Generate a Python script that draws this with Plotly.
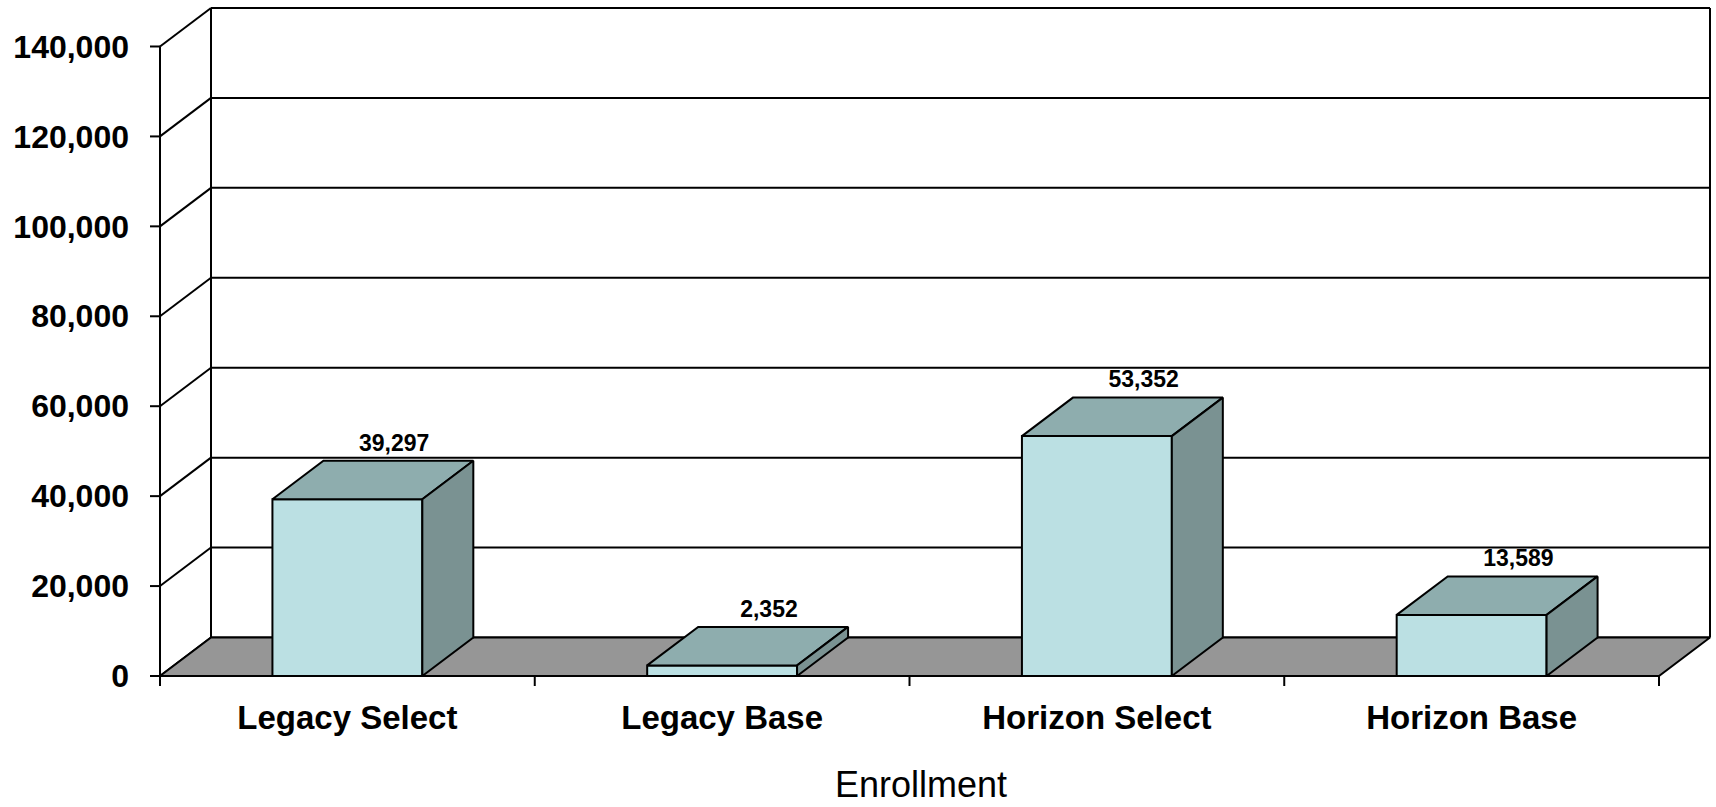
import plotly.graph_objects as go

# ---------------- data ----------------
categories = ["Legacy Select", "Legacy Base", "Horizon Select", "Horizon Base"]
enrollment = [39297, 2352, 53352, 13589]
y_ticks = [0, 20000, 40000, 60000, 80000, 100000, 120000, 140000]
y_tick_labels = [f"{v:,}" for v in y_ticks]
axis_title = "Enrollment"

# ---------------- geometry / style ----------------
W, H = 1716, 807
X0_PX, UNIT_PX = 160, 374.75          # pixel of category edge 0, px per category
Y0_PX, VAL_PX = 676, 89.93 / 20000    # pixel of value 0, px per value unit
DEPTH_DX_PX, DEPTH_DY_PX = 51, 38.5   # oblique depth offset
L, R, T, B = 150, 1714, 2, 688        # plot area in pixels
TICK_PX = 10
BAR_W = 0.4
LABEL_DX = 0.125
LABEL_DY_PX = 16

FRONT = "#BBE0E3"
TOP = "#8EADAE"
SIDE = "#7A9292"
FLOOR = "#969696"
LINE = "#000000"
LW = 2
FONT = "Arial, 'Liberation Sans', sans-serif"

ddx = DEPTH_DX_PX / UNIT_PX
ddy = DEPTH_DY_PX / VAL_PX
px_x = lambda p: p / UNIT_PX
px_y = lambda p: p / VAL_PX
ncat = len(categories)
ymax = max(y_ticks)

xr = [(L - X0_PX) / UNIT_PX, (R - X0_PX) / UNIT_PX]
yr = [(Y0_PX - B) / VAL_PX, (Y0_PX - T) / VAL_PX]

fig = go.Figure()


def segs(pairs, width=LW, color=LINE):
    xs, ys = [], []
    for (xa, ya), (xb, yb) in pairs:
        xs += [xa, xb, None]
        ys += [ya, yb, None]
    fig.add_trace(go.Scatter(x=xs, y=ys, mode="lines", line=dict(color=color, width=width),
                             hoverinfo="skip", showlegend=False))


def poly(pts, fill):
    xs = [p[0] for p in pts] + [pts[0][0]]
    ys = [p[1] for p in pts] + [pts[0][1]]
    fig.add_trace(go.Scatter(x=xs, y=ys, mode="lines", fill="toself", fillcolor=fill,
                             line=dict(color=LINE, width=LW), hoverinfo="skip", showlegend=False))


# back wall gridlines
segs([((ddx, v + ddy), (ncat + ddx, v + ddy)) for v in y_ticks])
# back wall verticals
segs([((ddx, ddy), (ddx, ymax + ddy)), ((ncat + ddx, ddy), (ncat + ddx, ymax + ddy))])
# side wall diagonals
segs([((0, v), (ddx, v + ddy)) for v in y_ticks])
# floor
poly([(0, 0), (ncat, 0), (ncat + ddx, ddy), (ddx, ddy)], FLOOR)
# front value axis line + ticks
segs([((0, 0), (0, ymax))])
segs([((0, v), (-px_x(TICK_PX), v)) for v in y_ticks])
# category ticks
segs([((i, 0), (i, -px_y(TICK_PX))) for i in range(ncat + 1)])

# bars
for i, v in enumerate(enrollment):
    c = i + 0.5
    x1, x2 = c - BAR_W / 2, c + BAR_W / 2
    poly([(x1, 0), (x2, 0), (x2, v), (x1, v)], FRONT)
    poly([(x1, v), (x2, v), (x2 + ddx, v + ddy), (x1 + ddx, v + ddy)], TOP)
    poly([(x2, 0), (x2 + ddx, ddy), (x2 + ddx, v + ddy), (x2, v)], SIDE)

# data labels
fig.add_trace(go.Scatter(
    x=[i + 0.5 + LABEL_DX for i in range(ncat)],
    y=[v + ddy + px_y(LABEL_DY_PX) for v in enrollment],
    text=[f"{v:,}" for v in enrollment],
    mode="text", textposition="middle center",
    textfont=dict(family=FONT, size=23, color="#000", weight="bold"),
    hoverinfo="skip", showlegend=False, cliponaxis=False))

fig.add_annotation(text=axis_title, xref="x", yref="paper",
                   x=(921 - X0_PX) / UNIT_PX, y=-(H - 1 - B) / (B - T),
                   xanchor="center", yanchor="bottom", showarrow=False, borderpad=0,
                   font=dict(family=FONT, size=36, color="#000"))

fig.update_layout(
    width=W, height=H,
    margin=dict(l=L, r=W - R, t=T, b=H - B, pad=0),
    paper_bgcolor="white", plot_bgcolor="white",
    showlegend=False,
    xaxis=dict(range=xr, showgrid=False, zeroline=False, showline=False,
               tickmode="array", tickvals=[i + 0.5 for i in range(ncat)], ticktext=categories,
               ticks="", ticklabelstandoff=7,
               tickfont=dict(family=FONT, size=33, color="#000", weight="bold"),
               fixedrange=True),
    yaxis=dict(range=yr, showgrid=False, zeroline=False, showline=False,
               tickmode="array", tickvals=y_ticks, ticktext=y_tick_labels,
               ticks="", ticklabelstandoff=20,
               tickfont=dict(family=FONT, size=32, color="#000", weight="bold"),
               fixedrange=True),
)

fig.write_html("out.html")
